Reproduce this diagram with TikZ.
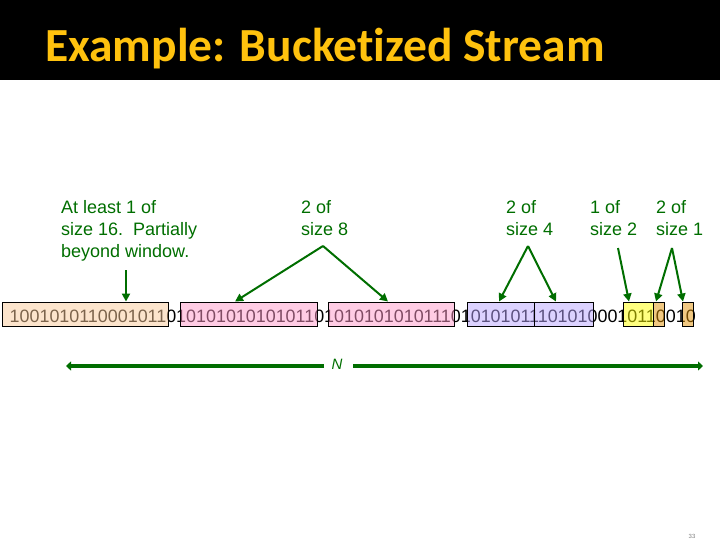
\documentclass[tikz,border=0pt]{standalone}
\usepackage{fontspec}
\setmainfont{Liberation Sans}
\newfontfamily\titlefnt{Carlito}[Ligatures={NoCommon,NoDiscretionary}]
\usetikzlibrary{arrows.meta}
\definecolor{gold}{RGB}{255,194,14}
\definecolor{dgreen}{RGB}{0,110,0}
\definecolor{peachF}{RGB}{249,201,153}
\definecolor{pinkF}{RGB}{255,153,201}
\definecolor{purpF}{RGB}{185,165,255}
\definecolor{yellF}{RGB}{255,255,1}
\definecolor{tanF}{RGB}{225,145,5}
\begin{document}
\begin{tikzpicture}[x=1pt,y=-1pt,
  bucket/.style={draw=black, line width=0.9pt, fill opacity=0.5, draw opacity=1, inner sep=0pt, minimum height=24pt},
  lbl/.style={anchor=north west, inner sep=0pt, align=left, text=dgreen, font=\fontsize{18}{22}\selectfont},
  garrow/.style={draw=dgreen, line width=2pt, -{Triangle[length=8pt,width=8pt]}},
  narrow/.style={draw=dgreen, line width=3.5pt, -{Triangle[length=5pt,width=9pt]}}]
\useasboundingbox (0,0) rectangle (720,540);
\fill[black] (0,0) rectangle (720,80);
\node[anchor=base west, inner sep=0pt, text=gold, font=\titlefnt\bfseries\fontsize{47.5}{52}\selectfont] (title) at (45,62) {Example: Bucketized Stream};

% stream of bits
\node[anchor=base west, inner sep=0pt, font=\fontsize{17.9}{20}\selectfont] (stream) at (9.5,322)
  {1001010110001011010101010101011010101010101110101010111010100010110010};

% buckets
\node[bucket, fill=peachF, minimum width=166pt] (b16) at (85,314) {};
\node[bucket, fill=pinkF, minimum width=137pt] (b8a) at (248.5,314) {};
\node[bucket, fill=pinkF, minimum width=126pt] (b8b) at (391,314) {};
\node[bucket, fill=purpF, minimum width=67pt] (b4a) at (500.5,314) {};
\node[bucket, fill=purpF, minimum width=59pt] (b4b) at (563.5,314) {};
\node[bucket, fill=yellF, minimum width=30pt] (b2) at (638,314) {};
\node[bucket, fill=tanF, minimum width=11pt] (b1a) at (658.5,314) {};
\node[bucket, fill=tanF, minimum width=11pt] (b1b) at (687.5,314) {};

% labels
\node[lbl] (l16) at (61,200) {At least 1 of\\size 16.\ \ Partially\\beyond window.};
\node[lbl] (l8) at (301,200) {2 of\\size 8};
\node[lbl] (l4) at (506,200) {2 of\\size 4};
\node[lbl] (l2) at (590,200) {1 of\\size 2};
\node[lbl] (l1) at (656,200) {2 of\\size 1};

% arrow start and end points
\coordinate (s16) at (126,270);
\coordinate (a8) at (323,246);
\coordinate (a4) at (528,246);
\coordinate (s2) at (618,248);
\coordinate (a1) at (672,248);
\coordinate (t16) at (b16.north -| 126,0);
\coordinate (t8a) at (b8a.north -| 235,0);
\coordinate (t8b) at (b8b.north -| 388,0);
\coordinate (t4a) at (b4a.north -| 499,0);
\coordinate (t4b) at (b4b.north -| 556,0);
\coordinate (t2) at (b2.north -| 629,0);
\coordinate (t1a) at (b1a.north -| 656,0);
\coordinate (t1b) at (b1b.north -| 683,0);

\draw[garrow] (s16) -- (t16);
\draw[garrow] (a8) -- (t8a);
\draw[garrow] (a8) -- (t8b);
\draw[garrow] (a4) -- (t4a);
\draw[garrow] (a4) -- (t4b);
\draw[garrow] (s2) -- (t2);
\draw[garrow] (a1) -- (t1a);
\draw[garrow] (a1) -- (t1b);

% window N
\node[inner sep=0pt, text=dgreen, font=\itshape\fontsize{15}{18}\selectfont] (N) at (337,364) {N};
\coordinate (nl) at (66,366);
\coordinate (nr) at (703,366);
\draw[narrow] (324,366) -- (nl);
\draw[narrow] (353,366) -- (nr);

\node[inner sep=0pt, text=gray, font=\fontsize{6}{7}\selectfont] (pg) at (692,536) {33};
\end{tikzpicture}
\end{document}
